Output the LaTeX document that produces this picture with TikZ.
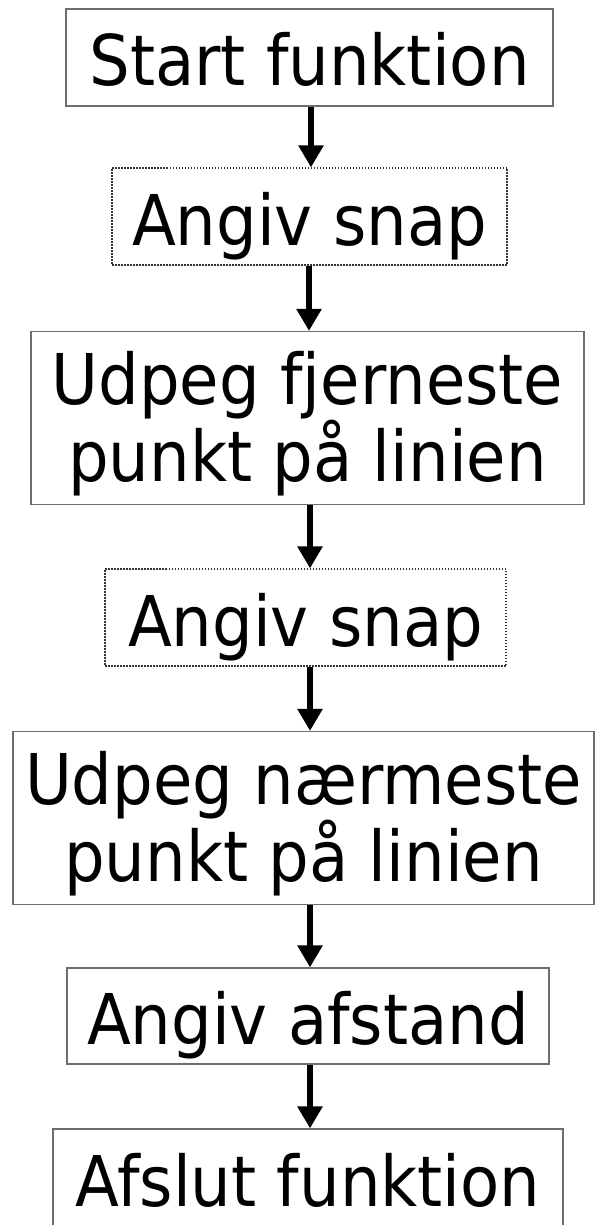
\documentclass[tikz,border=0pt]{standalone}
\usepackage{fontspec}
\setmainfont{DejaVu Sans}[FakeStretch=0.915]
\usetikzlibrary{arrows.meta}
\definecolor{boxgray}{RGB}{110,110,110}
\tikzset{
  solidbox/.style={draw=boxgray, line width=1.2pt, inner sep=0pt, align=center,
    font=\fontsize{70}{71.6}\selectfont},
  oneline/.style={text height=57pt, text depth=0pt},
  dotbox/.style={solidbox, dash pattern=on 1.5pt off 1.5pt, draw=black!80},
  flowarrow/.style={line width=6.5pt, -{Triangle[width=24pt,length=22pt]}}
}
\newcommand{\firststrut}{\rule{0pt}{65.5pt}}
\begin{document}
\begin{tikzpicture}[x=1pt,y=-1pt]
\useasboundingbox (0,0) rectangle (605,1225);
\node[solidbox, oneline, minimum width=487pt, minimum height=97pt] (b1) at (309.5,57.5) {Start funktion};
\node[dotbox, oneline, minimum width=395pt, minimum height=97pt] (b2) at (309.5,216.5) {Angiv snap};
\node[solidbox, minimum width=553pt, minimum height=173pt] (b3) at (307.5,418) {\firststrut Udpeg fjerneste\\punkt på linien};
\node[dotbox, oneline, minimum width=401pt, minimum height=97pt] (b4) at (305.5,617.5) {Angiv snap};
\node[solidbox, minimum width=581pt, minimum height=173pt] (b5) at (303.5,818) {\firststrut Udpeg nærmeste\\punkt på linien};
\node[solidbox, oneline, minimum width=482pt, minimum height=96pt] (b6) at (308,1016) {Angiv afstand};
\node[solidbox, oneline, minimum width=510pt, minimum height=97pt] (b7) at (308,1177.5) {Afslut funktion};
\coordinate (a1) at (311,0);
\coordinate (a2) at (309,0);
\coordinate (a3) at (310,0);
\draw[flowarrow] (a1 |- b1.south) -- (a1 |- b2.north);
\draw[flowarrow] (a2 |- b2.south) -- (a2 |- b3.north);
\draw[flowarrow] (a3 |- b3.south) -- (a3 |- b4.north);
\draw[flowarrow] (a3 |- b4.south) -- (a3 |- b5.north);
\draw[flowarrow] (a3 |- b5.south) -- (a3 |- b6.north);
\draw[flowarrow] (a3 |- b6.south) -- (a3 |- b7.north);
\end{tikzpicture}
\end{document}
